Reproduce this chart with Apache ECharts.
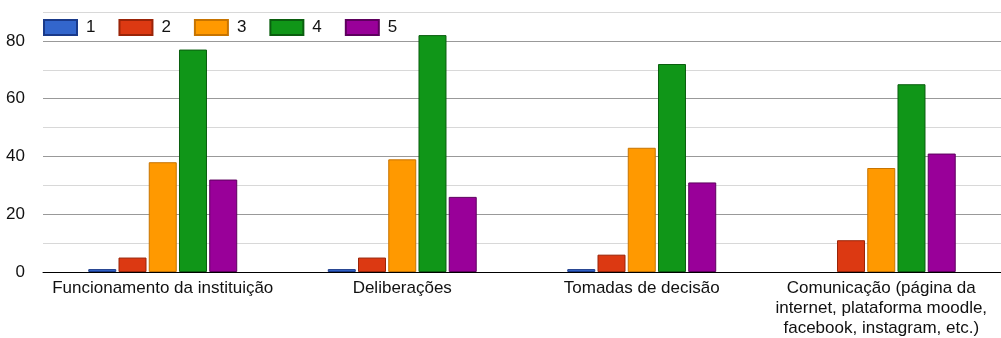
<!DOCTYPE html>
<html><head><meta charset="utf-8">
<script src="https://cdn.jsdelivr.net/npm/echarts@6/dist/echarts.min.js"></script>
<style>html,body{margin:0;padding:0;background:#fff}#c{width:1001px;height:338px}</style>
</head><body><div id="c"></div>
<script>
const categories = ['Funcionamento da instituição', 'Deliberações', 'Tomadas de decisão', 'Comunicação (página da\ninternet, plataforma moodle,\nfacebook, instagram, etc.)'];
const seriesNames = ['1', '2', '3', '4', '5'];
const s1 = [1, 1, 1, 0];
const s2 = [5, 5, 6, 11];
const s3 = [38, 39, 43, 36];
const s4 = [77, 82, 72, 65];
const s5 = [32, 26, 31, 41];
const yTickLabels = ['0', '20', '40', '60', '80'];

const fills = ['#3366cc', '#dc3912', '#ff9900', '#109618', '#990099'];
const borders = ['#1a3a8a', '#9a2408', '#c77400', '#0a5e0f', '#5e005e'];
const data = [s1, s2, s3, s4, s5];

const chart = echarts.init(document.getElementById('c'));
chart.setOption({
  animation: false,
  textStyle: { fontFamily: 'Liberation Sans, Arial, sans-serif' },
  legend: {
    left: 38, top: 14, itemWidth: 33, itemHeight: 15, itemGap: 23,
    icon: 'rect',
    textStyle: { fontSize: 17, color: '#111', padding: [0, 0, 0, 4] },
    data: seriesNames
  },
  grid: { left: 43, right: 0, top: 12, bottom: 66, containLabel: false },
  xAxis: {
    type: 'category', data: categories,
    axisLine: { lineStyle: { color: '#000', width: 1 } },
    axisTick: { show: false },
    axisLabel: { fontSize: 17, color: '#111', lineHeight: 20, margin: 6, interval: 0 }
  },
  yAxis: {
    type: 'value', min: 0, max: 90, interval: 10,
    axisLine: { show: false }, axisTick: { show: false },
    axisLabel: {
      fontSize: 17, color: '#111', margin: 18,
      formatter: v => yTickLabels.indexOf(String(v)) >= 0 ? String(v) : ''
    },
    splitLine: { lineStyle: { color: ['#999', '#d8d8d8'], width: 1 } }
  },
  series: seriesNames.map((n, i) => ({
    name: n, type: 'bar',
    data: data[i].map(v => v === 0 ? { value: v, itemStyle: { borderWidth: 0 } } : v),
    barWidth: 28, barGap: '8%',
    itemStyle: { color: fills[i], borderColor: borders[i], borderWidth: 1 }
  }))
});
</script></body></html>
